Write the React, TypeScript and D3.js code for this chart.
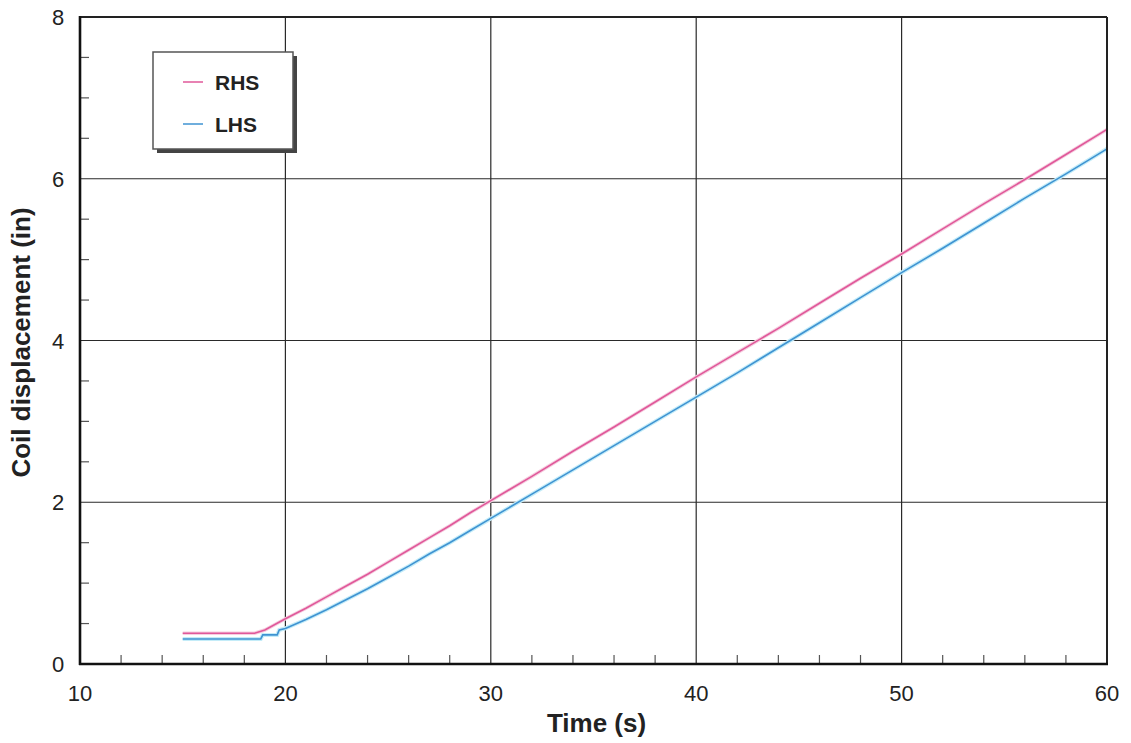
import React from "react";
import * as d3 from "d3";

const rhsTime = [15, 18.5, 19, 20, 21, 22, 23, 24, 25, 26, 27, 28, 29, 30, 32, 34, 36, 38, 40, 42, 44, 46, 48, 50, 52, 54, 56, 58, 60];
const rhsDisp = [0.38, 0.38, 0.42, 0.56, 0.69, 0.83, 0.97, 1.11, 1.26, 1.41, 1.56, 1.71, 1.87, 2.02, 2.32, 2.63, 2.93, 3.24, 3.55, 3.85, 4.15, 4.46, 4.77, 5.07, 5.38, 5.69, 5.99, 6.3, 6.61];

const lhsTime = [15, 18.8, 18.9, 19.6, 19.7, 20, 21, 22, 23, 24, 25, 26, 27, 28, 29, 30, 32, 34, 36, 38, 40, 42, 44, 46, 48, 50, 52, 54, 56, 58, 60];
const lhsDisp = [0.31, 0.31, 0.36, 0.36, 0.42, 0.44, 0.55, 0.67, 0.8, 0.93, 1.07, 1.21, 1.36, 1.5, 1.65, 1.8, 2.1, 2.4, 2.7, 3.0, 3.3, 3.6, 3.91, 4.22, 4.53, 4.84, 5.14, 5.45, 5.76, 6.06, 6.37];

const xMajor = [10, 20, 30, 40, 50, 60];
const xMinor = [12, 14, 16, 18, 22, 24, 26, 28, 32, 34, 36, 38, 42, 44, 46, 48, 52, 54, 56, 58];
const yMajor = [0, 2, 4, 6, 8];
const yMinor = [0.5, 1, 1.5, 2.5, 3, 3.5, 4.5, 5, 5.5, 6.5, 7, 7.5];

const seriesNames = ["RHS", "LHS"];
const seriesColors = ["#e0589a", "#3f93d2"];

export default function App() {
  const W = 1131, H = 743;
  const L = 80, R = 1107, T = 17, B = 664;
  const x = d3.scaleLinear().domain([10, 60]).range([L, R]);
  const y = d3.scaleLinear().domain([0, 8]).range([B, T]);
  const line = d3.line<[number, number]>().x(d => x(d[0])).y(d => y(d[1]));
  const rhs = line(rhsTime.map((t, i) => [t, rhsDisp[i]] as [number, number])) || "";
  const lhs = line(lhsTime.map((t, i) => [t, lhsDisp[i]] as [number, number])) || "";
  const font = "'Liberation Sans', Arial, Helvetica, sans-serif";

  return (
    <svg width={W} height={H} style={{ position: "absolute", left: 0, top: 0, background: "#fff" }} fontFamily={font}>
      <rect x={0} y={0} width={W} height={H} fill="#fff" />
      {xMajor.slice(1, -1).map(v => (
        <line key={"gx" + v} x1={x(v)} x2={x(v)} y1={T} y2={B} stroke="#2a2a2a" strokeWidth={1.2} />
      ))}
      {yMajor.slice(1, -1).map(v => (
        <line key={"gy" + v} x1={L} x2={R} y1={y(v)} y2={y(v)} stroke="#2a2a2a" strokeWidth={1.2} />
      ))}
      {xMinor.map(v => (
        <line key={"mx" + v} x1={x(v)} x2={x(v)} y1={B} y2={B - 9} stroke="#555" strokeWidth={1.2} />
      ))}
      {yMinor.map(v => (
        <line key={"my" + v} x1={L} x2={L + 9} y1={y(v)} y2={y(v)} stroke="#555" strokeWidth={1.2} />
      ))}
      <path d={lhs} fill="none" stroke="#c4ecf8" strokeWidth={4} />
      <path d={rhs} fill="none" stroke="#f5cfe0" strokeWidth={3.5} />
      <path d={lhs} fill="none" stroke={seriesColors[1]} strokeWidth={1.6} />
      <path d={rhs} fill="none" stroke={seriesColors[0]} strokeWidth={1.6} />
      <line x1={L} x2={R} y1={T} y2={T} stroke="#222" strokeWidth={2} />
      <line x1={R} x2={R} y1={T} y2={B} stroke="#222" strokeWidth={2} />
      <line x1={L} x2={L} y1={T - 1} y2={B + 1} stroke="#111" strokeWidth={2.6} />
      <line x1={L - 1} x2={R + 1} y1={B} y2={B} stroke="#111" strokeWidth={2.6} />
      {xMajor.map(v => (
        <text key={"tx" + v} x={x(v)} y={B + 37} textAnchor="middle" fontSize={22} fill="#222">{v}</text>
      ))}
      {yMajor.map(v => (
        <text key={"ty" + v} x={L - 22} y={y(v) + 8} textAnchor="middle" fontSize={22} fill="#222">{v}</text>
      ))}
      <text x={(L + R) / 2 + 3} y={732} textAnchor="middle" fontSize={26} fontWeight="bold" fill="#222">Time (s)</text>
      <text transform={`translate(30, ${(T + B) / 2 + 2}) rotate(-90)`} textAnchor="middle" fontSize={26} fontWeight="bold" fill="#222">Coil displacement (in)</text>
      <rect x={157} y={56} width={140} height={97} fill="#444" />
      <rect x={153} y={52} width={140} height={97} fill="#fff" stroke="#555" strokeWidth={1.5} />
      {seriesNames.map((n, i) => (
        <g key={n}>
          <line x1={183} x2={203} y1={82 + i * 42} y2={82 + i * 42} stroke={seriesColors[i]} strokeWidth={1.5} />
          <text x={215} y={90 + i * 42} fontSize={21} fontWeight="bold" fill="#222">{n}</text>
        </g>
      ))}
    </svg>
  );
}
